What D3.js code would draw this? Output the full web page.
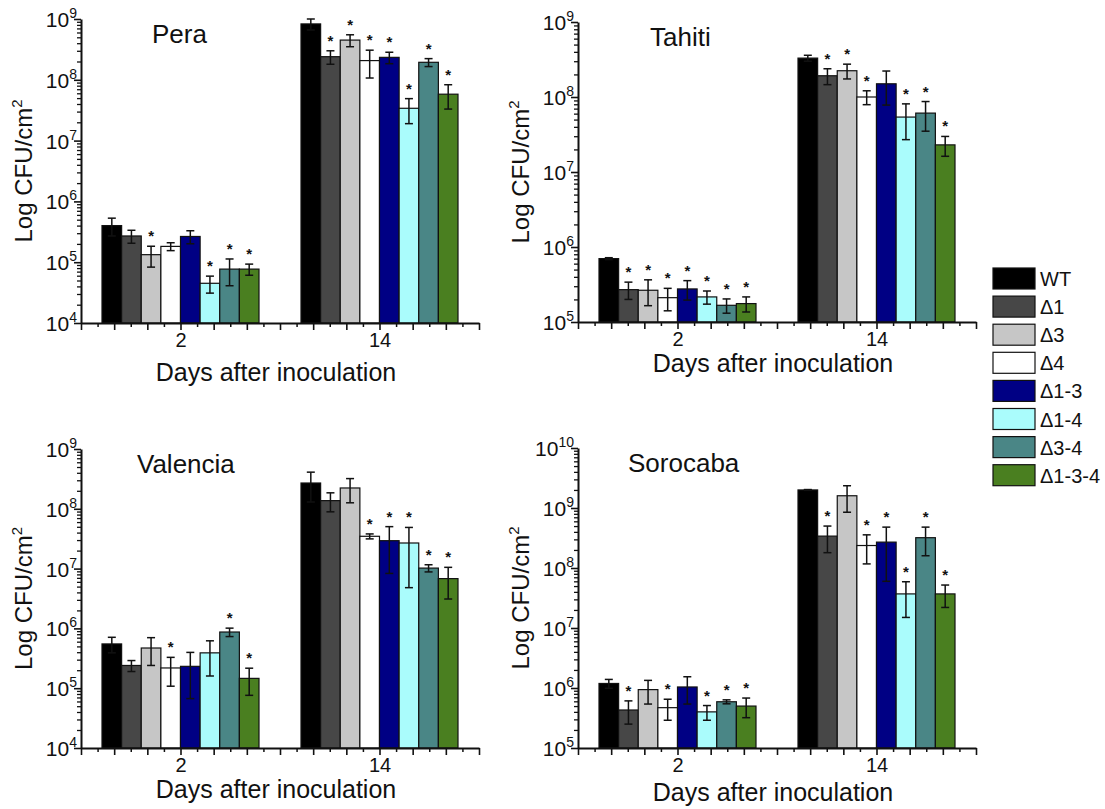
<!DOCTYPE html>
<html>
<head>
<meta charset="utf-8">
<script src="https://cdn.jsdelivr.net/npm/d3@7"></script>
<style>
  body { margin: 0; background: #fff; }
  text { font-family: "Liberation Sans", Arial, sans-serif; fill: #111; }
</style>
</head>
<body>
<svg id="chart" width="1105" height="809"></svg>
<script>
// strains and colours
var strains = ['WT', 'Δ1', 'Δ3', 'Δ4', 'Δ1-3', 'Δ1-4', 'Δ3-4', 'Δ1-3-4'];
var colors = ['#000000', '#474747', '#c6c6c6', '#ffffff', '#000084', '#aafcfc', '#4a8686', '#4a7f20'];
var days = [2, 14];

// Pera
var peraDay2 = [4.0e5, 2.7e5, 1.33e5, 1.82e5, 2.65e5, 4.5e4, 7.7e4, 7.7e4];
var peraDay2Err = [1.3e5, 0.65e5, 0.5e5, 0.27e5, 0.64e5, 1.4e4, 3.6e4, 1.6e4];
var peraDay14 = [8.3e8, 2.4e8, 4.5e8, 2.07e8, 2.34e8, 3.4e7, 1.94e8, 5.8e7];
var peraDay14Err = [1.7e8, 0.6e8, 1.0e8, 1.0e8, 0.5e8, 1.5e7, 0.29e8, 2.5e7];
var peraStars2 = [0, 0, 1, 0, 0, 1, 1, 1];
var peraStars14 = [0, 1, 1, 1, 1, 1, 1, 1];

// Tahiti
var tahitiDay2 = [7.0e5, 2.7e5, 2.65e5, 2.11e5, 2.76e5, 2.16e5, 1.67e5, 1.76e5];
var tahitiDay2Err = [0.2e5, 0.7e5, 1.0e5, 0.7e5, 0.8e5, 0.43e5, 0.36e5, 0.4e5];
var tahitiDay14 = [3.3e8, 1.92e8, 2.24e8, 1.0e8, 1.5e8, 5.4e7, 6.1e7, 2.3e7];
var tahitiDay14Err = [0.3e8, 0.46e8, 0.5e8, 0.21e8, 0.72e8, 2.7e7, 2.6e7, 0.68e7];
var tahitiStars2 = [0, 1, 1, 1, 1, 1, 1, 1];
var tahitiStars14 = [0, 1, 1, 1, 0, 1, 1, 1];

// Valencia
var valenciaDay2 = [5.5e5, 2.4e5, 4.7e5, 2.18e5, 2.32e5, 3.9e5, 8.7e5, 1.46e5];
var valenciaDay2Err = [1.6e5, 0.5e5, 2.3e5, 1.1e5, 1.65e5, 2.3e5, 1.4e5, 0.7e5];
var valenciaDay14 = [2.7e8, 1.37e8, 2.23e8, 3.47e7, 2.93e7, 2.68e7, 1.02e7, 6.8e6];
var valenciaDay14Err = [1.4e8, 0.48e8, 0.97e8, 0.33e7, 2.1e7, 2.2e7, 0.14e7, 3.7e6];
var valenciaStars2 = [0, 0, 0, 1, 0, 0, 1, 1];
var valenciaStars14 = [0, 0, 0, 1, 1, 1, 1, 1];

// Sorocaba
var sorocabaDay2 = [1.19e6, 4.3e5, 9.4e5, 4.7e5, 1.04e6, 4.0e5, 5.9e5, 5.0e5];
var sorocabaDay2Err = [0.2e6, 1.8e5, 4e5, 1.8e5, 5e5, 1.1e5, 0.45e5, 1.8e5];
var sorocabaDay14 = [2.0e9, 3.4e8, 1.6e9, 2.37e8, 2.7e8, 3.7e7, 3.2e8, 3.7e7];
var sorocabaDay14Err = [0.03e9, 1.6e8, 7.5e8, 1.2e8, 2.1e8, 2.2e7, 1.6e8, 1.5e7];
var sorocabaStars2 = [0, 1, 0, 1, 0, 1, 1, 1];
var sorocabaStars14 = [0, 1, 0, 1, 1, 1, 1, 1];

var panels = [
  { title: 'Pera', exps: [4, 9], left: 81, top: 19, bottom: 323, titleDx: 71, labelDy: 58,
    values: [peraDay2, peraDay14], errs: [peraDay2Err, peraDay14Err], stars: [peraStars2, peraStars14] },
  { title: 'Tahiti', exps: [5, 9], left: 578, top: 22, bottom: 322, titleDx: 72, labelDy: 50,
    values: [tahitiDay2, tahitiDay14], errs: [tahitiDay2Err, tahitiDay14Err], stars: [tahitiStars2, tahitiStars14] },
  { title: 'Valencia', exps: [4, 9], left: 81, top: 449, bottom: 748, titleDx: 56, labelDy: 50,
    values: [valenciaDay2, valenciaDay14], errs: [valenciaDay2Err, valenciaDay14Err], stars: [valenciaStars2, valenciaStars14] },
  { title: 'Sorocaba', exps: [5, 10], left: 578, top: 448, bottom: 748, titleDx: 50, labelDy: 53,
    values: [sorocabaDay2, sorocabaDay14], errs: [sorocabaDay2Err, sorocabaDay14Err], stars: [sorocabaStars2, sorocabaStars14] }
];

var svg = d3.select('#chart');
var plotWidth = 398;
var groupSpan = 157;

panels.forEach(function(p) {
  var g = svg.append('g');
  var ymin = Math.pow(10, p.exps[0]), ymax = Math.pow(10, p.exps[1]);

  var x = d3.scaleLinear().domain([-4, 20]).range([p.left, p.left + plotWidth]);
  var y = d3.scaleLog().domain([ymin, ymax]).range([p.bottom, p.top]);
  var inner = d3.scaleBand().domain(strains).range([-groupSpan / 2, groupSpan / 2]);

  // bars, error bars, stars
  days.forEach(function(day, di) {
    var cx = x(day);
    strains.forEach(function(s, si) {
      var v = p.values[di][si], e = p.errs[di][si];
      var bx = cx + inner(s);
      var bw = inner.bandwidth();
      g.append('rect')
        .attr('x', bx).attr('y', y(v))
        .attr('width', bw).attr('height', p.bottom - y(v))
        .attr('fill', colors[si])
        .attr('stroke', '#111').attr('stroke-width', 1.2);

      var mid = bx + bw / 2;
      var hi = y(v + e);
      var lo = y(Math.max(v - e, ymin));
      g.append('line').attr('x1', mid).attr('x2', mid).attr('y1', hi).attr('y2', lo)
        .attr('stroke', '#111').attr('stroke-width', 1.5);
      [hi, lo].forEach(function(yy) {
        g.append('line').attr('x1', mid - 4).attr('x2', mid + 4).attr('y1', yy).attr('y2', yy)
          .attr('stroke', '#111').attr('stroke-width', 1.5);
      });

      if (p.stars[di][si]) {
        g.append('text')
          .attr('x', mid).attr('y', hi - 5)
          .attr('text-anchor', 'middle')
          .attr('font-size', '15px')
          .attr('font-weight', 'bold')
          .text('*');
      }
    });
  });

  // y axis
  var majors = d3.range(p.exps[0], p.exps[1] + 1).map(function(k) { return Math.pow(10, k); });
  var minors = [];
  d3.range(p.exps[0], p.exps[1]).forEach(function(k) {
    for (var m = 2; m < 10; m++) minors.push(m * Math.pow(10, k));
  });

  var yMinor = g.append('g').attr('transform', 'translate(' + p.left + ',0)')
    .call(d3.axisLeft(y).tickValues(minors).tickSize(4).tickSizeOuter(0).tickFormat(''));
  yMinor.select('.domain').remove();
  yMinor.selectAll('line').attr('stroke', '#111').attr('stroke-width', 1.3);

  var yMajor = g.append('g').attr('transform', 'translate(' + p.left + ',0)')
    .call(d3.axisLeft(y).tickValues(majors).tickSize(7).tickSizeOuter(0).tickFormat(''));
  yMajor.select('.domain').attr('stroke', '#111').attr('stroke-width', 2);
  yMajor.selectAll('line').attr('stroke', '#111').attr('stroke-width', 1.6);

  majors.forEach(function(val, i) {
    var t = g.append('text')
      .attr('x', p.left - 4).attr('y', y(val) + 8)
      .attr('text-anchor', 'end')
      .attr('font-size', '21px');
    t.append('tspan').text('10');
    t.append('tspan').attr('dy', -9).attr('font-size', '14px').text(p.exps[0] + i);
  });

  // x axis
  var xMinor = g.append('g').attr('transform', 'translate(0,' + p.bottom + ')')
    .call(d3.axisBottom(x).tickValues(d3.range(-3, 20, 2)).tickSize(4).tickSizeOuter(0).tickFormat(''));
  xMinor.select('.domain').remove();
  xMinor.selectAll('line').attr('stroke', '#111').attr('stroke-width', 1.5);

  var xMajor = g.append('g').attr('transform', 'translate(0,' + p.bottom + ')')
    .call(d3.axisBottom(x).tickValues(d3.range(-4, 21, 2)).tickSize(7).tickSizeOuter(0).tickPadding(3)
      .tickFormat(function(d) { return days.indexOf(d) >= 0 ? d : ''; }));
  xMajor.select('.domain').attr('stroke', '#111').attr('stroke-width', 2);
  xMajor.selectAll('line').attr('stroke', '#111').attr('stroke-width', 1.6);
  xMajor.selectAll('text')
    .attr('font-size', '20px')
    .attr('font-family', '"Liberation Sans", Arial, sans-serif')
    .attr('fill', '#111');

  // labels
  g.append('text')
    .attr('x', p.left + p.titleDx).attr('y', p.top + 24)
    .attr('font-size', '26px')
    .text(p.title);

  g.append('text')
    .attr('x', p.left + plotWidth / 2 - 4).attr('y', p.bottom + p.labelDy)
    .attr('text-anchor', 'middle')
    .attr('font-size', '25px')
    .text('Days after inoculation');

  var yl = g.append('text')
    .attr('transform', 'translate(' + (p.left - 49) + ',' + ((p.top + p.bottom) / 2) + ') rotate(-90)')
    .attr('text-anchor', 'middle')
    .attr('font-size', '24px');
  yl.append('tspan').text('Log CFU/cm');
  yl.append('tspan').attr('dy', -10).attr('font-size', '15px').text('2');
});

// legend
var legend = svg.append('g').attr('transform', 'translate(993,268)');
strains.forEach(function(s, i) {
  legend.append('rect')
    .attr('x', 0).attr('y', i * 28.1)
    .attr('width', 42).attr('height', 21)
    .attr('fill', colors[i])
    .attr('stroke', '#111').attr('stroke-width', 1.2);
  legend.append('text')
    .attr('x', 47).attr('y', i * 28.1 + 18)
    .attr('font-size', '20px')
    .text(s);
});
</script>
</body>
</html>
